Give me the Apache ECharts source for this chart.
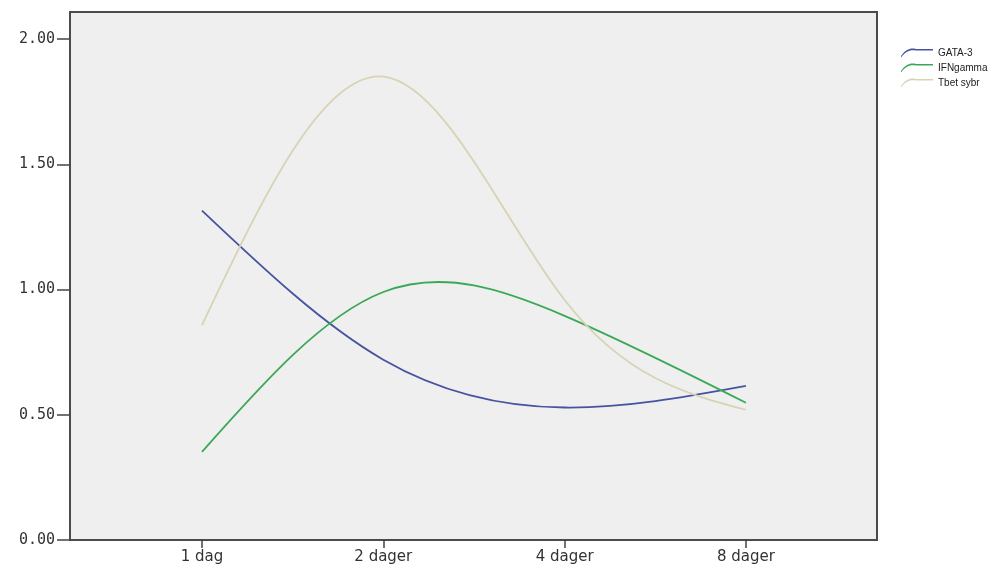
<!DOCTYPE html>
<html>
<head>
<meta charset="utf-8">
<title>GATA-3, IFNgamma, Tbet sybr</title>
<script src="https://cdn.jsdelivr.net/npm/echarts@6/dist/echarts.min.js"></script>
<style>
  html, body { margin: 0; padding: 0; background: #ffffff; }
  #chart { width: 989px; height: 566px; }
</style>
</head>
<body>
<div id="chart"></div>
<script>
// Time points on the x axis
const categories = ['1 dag', '2 dager', '4 dager', '8 dager'];

// Mean relative expression per time point
const gata3 = [1.315, 0.72, 0.529, 0.615];
const ifngamma = [0.352, 0.99, 0.895, 0.548];
const tbetSybr = [0.858, 1.85, 0.958, 0.52];

// Y axis tick values
const yTicks = [0, 0.5, 1, 1.5, 2];

const catIndex = categories.map((c, i) => i);

// Small curved stroke used as the legend key
const legendIcon = 'path://M0,9 C5,2 10,0 16,1.5 L34,1.5 L34,3.2 L16,3.2 C10,1.8 5,3.8 0,10.5 Z';

// Natural cubic spline through pixel points, returned as cubic bezier segments.
function splineSegments(pts) {
  const n = pts.length;
  if (n < 3) return [];
  const a = new Array(n).fill(0), b = new Array(n).fill(0), c = new Array(n).fill(0), d = new Array(n).fill(0);
  const h = [];
  for (let i = 0; i < n - 1; i++) h.push(pts[i + 1][0] - pts[i][0]);
  b[0] = 1; b[n - 1] = 1;
  for (let i = 1; i < n - 1; i++) {
    a[i] = h[i - 1];
    b[i] = 2 * (h[i - 1] + h[i]);
    c[i] = h[i];
    d[i] = 6 * ((pts[i + 1][1] - pts[i][1]) / h[i] - (pts[i][1] - pts[i - 1][1]) / h[i - 1]);
  }
  for (let i = 1; i < n; i++) {
    const m = a[i] / b[i - 1];
    b[i] -= m * c[i - 1];
    d[i] -= m * d[i - 1];
  }
  const M = new Array(n).fill(0);
  M[n - 1] = d[n - 1] / b[n - 1];
  for (let i = n - 2; i >= 0; i--) M[i] = (d[i] - c[i] * M[i + 1]) / b[i];

  const segs = [];
  for (let i = 0; i < n - 1; i++) {
    const x0 = pts[i][0], y0 = pts[i][1], x1 = pts[i + 1][0], y1 = pts[i + 1][1], hi = h[i];
    const s0 = (y1 - y0) / hi - hi * (2 * M[i] + M[i + 1]) / 6;
    const s1 = (y1 - y0) / hi + hi * (M[i] + 2 * M[i + 1]) / 6;
    segs.push([x0 + hi / 3, y0 + s0 * hi / 3, x1 - hi / 3, y1 - s1 * hi / 3, x1, y1]);
  }
  return segs;
}

const chart = echarts.init(document.getElementById('chart'), null, { renderer: 'canvas' });

const curveSeries = (name, vals, color) => ({
  name: name,
  type: 'custom',
  data: vals.map((v, i) => [i, v]),
  encode: { x: 0, y: 1 },
  itemStyle: { color: color },
  clip: true,
  z: 3,
  renderItem: (params, api) => {
    if (params.dataIndex !== 0) return null;
    const pts = vals.map((v, i) => api.coord([i, v]));
    const segs = splineSegments(pts);
    let p = 'M' + pts[0][0] + ',' + pts[0][1];
    segs.forEach(s => { p += ' C' + s.join(','); });
    return {
      type: 'path',
      shape: { pathData: p },
      style: { fill: null, stroke: color, lineWidth: 1.8 }
    };
  }
});

chart.setOption({
  animation: false,
  backgroundColor: '#ffffff',
  grid: {
    left: 70, right: 112, top: 12, bottom: 26,
    show: true,
    backgroundColor: '#efefef',
    borderColor: '#4a4a4a',
    borderWidth: 2
  },
  legend: {
    orient: 'vertical',
    left: 901,
    top: 48,
    padding: 0,
    itemGap: 5,
    itemWidth: 32,
    itemHeight: 10,
    icon: legendIcon,
    textStyle: { fontFamily: 'Liberation Sans, Arial, sans-serif', fontSize: 10, color: '#222' },
    data: ['GATA-3', 'IFNgamma', 'Tbet sybr']
  },
  xAxis: {
    type: 'value',
    min: -0.728,
    max: 3.723,
    splitLine: { show: false },
    axisLine: { show: false, onZero: false },
    axisTick: {
      show: true, length: 8, inside: false,
      customValues: catIndex,
      lineStyle: { color: '#444', width: 1.5 }
    },
    axisLabel: {
      customValues: catIndex,
      margin: 10,
      fontFamily: 'DejaVu Sans, sans-serif',
      fontSize: 15,
      color: '#333',
      formatter: v => categories[Math.round(v)] || ''
    }
  },
  yAxis: {
    type: 'value',
    min: 0,
    max: 2.108,
    splitLine: { show: false },
    axisLine: { show: false, onZero: false },
    axisTick: {
      show: true, length: 13,
      customValues: yTicks,
      lineStyle: { color: '#444', width: 1.5 }
    },
    axisLabel: {
      customValues: yTicks,
      margin: 15,
      fontFamily: 'DejaVu Sans Mono, monospace',
      fontSize: 15,
      color: '#333',
      formatter: v => v.toFixed(2)
    }
  },
  series: [
    curveSeries('GATA-3', gata3, '#46549f'),
    curveSeries('IFNgamma', ifngamma, '#3aa856'),
    curveSeries('Tbet sybr', tbetSybr, '#d8d3b4')
  ]
});
</script>
</body>
</html>
